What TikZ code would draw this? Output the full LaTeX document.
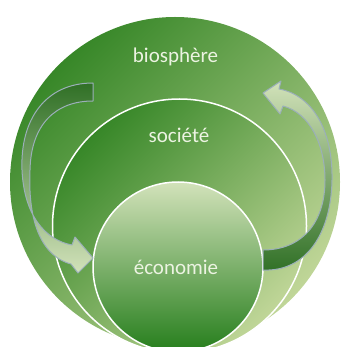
\documentclass[tikz,border=0pt]{standalone}
\usepackage{fontspec}
\setmainfont{Carlito}
\usepackage{tikz}
\usetikzlibrary{positioning}
\definecolor{grDark}{RGB}{55,135,40}
\definecolor{grLight}{RGB}{192,214,152}
\definecolor{grPale}{RGB}{210,226,186}
\definecolor{grDeep}{RGB}{38,126,28}
\definecolor{arrowDark}{RGB}{48,112,38}
\definecolor{arrowLine}{RGB}{155,175,185}
\definecolor{labelText}{RGB}{236,243,226}

\begin{document}
\begin{tikzpicture}[x=1pt,y=-1pt,
  ring/.style={circle,inner sep=0pt,outer sep=0pt,minimum size=#1},
  rim/.style={draw=white,line width=1.5pt},
  lbl/.style={text=labelText,anchor=base,inner sep=0pt,font=\fontsize{21}{25}\selectfont},
  flow/.style={draw=arrowLine,line width=1pt,line join=round}]
\useasboundingbox (0,0) rectangle (341,347);
\clip (0,0) rectangle (341,347);
% circles
\node[ring=330pt,top color=grDark,bottom color=grLight,shading angle=45] (bio) at (175,182) {};
\node[ring=254pt,rim,top color=grDark,bottom color=grLight,shading angle=45] (soc) at (179.5,226) {};
\node[ring=170pt,rim,top color=grPale,bottom color=grDeep] (eco) at (178,267) {};
% arrows
\path[flow,top color=arrowDark,bottom color=grPale]
  (93,83) .. controls (45,83) and (20,120) .. (22,170)
  .. controls (24,215) and (45,240) .. (72,245)
  -- (75,237) -- (93,258) -- (78,273) -- (71,264)
  .. controls (38,255) and (28,215) .. (30,170)
  .. controls (31,125) and (55,101) .. (93,101) -- cycle;
\path[flow,top color=grPale,bottom color=arrowDark]
  (263,93) -- (281,81) -- (279,89)
  .. controls (312,95) and (333,130) .. (332,180)
  .. controls (331,235) and (305,272) .. (263,270)
  -- (263,250)
  .. controls (300,250) and (325,225) .. (325,180)
  .. controls (325,145) and (310,113) .. (283,106)
  -- (280,114) -- cycle;
% labels
\node[lbl] (bioText) at (175.5,63) {biosphère};
\node[lbl] (socText) at (179,143) {société};
\node[lbl] (ecoText) at (176,274) {économie};
\end{tikzpicture}
\end{document}
